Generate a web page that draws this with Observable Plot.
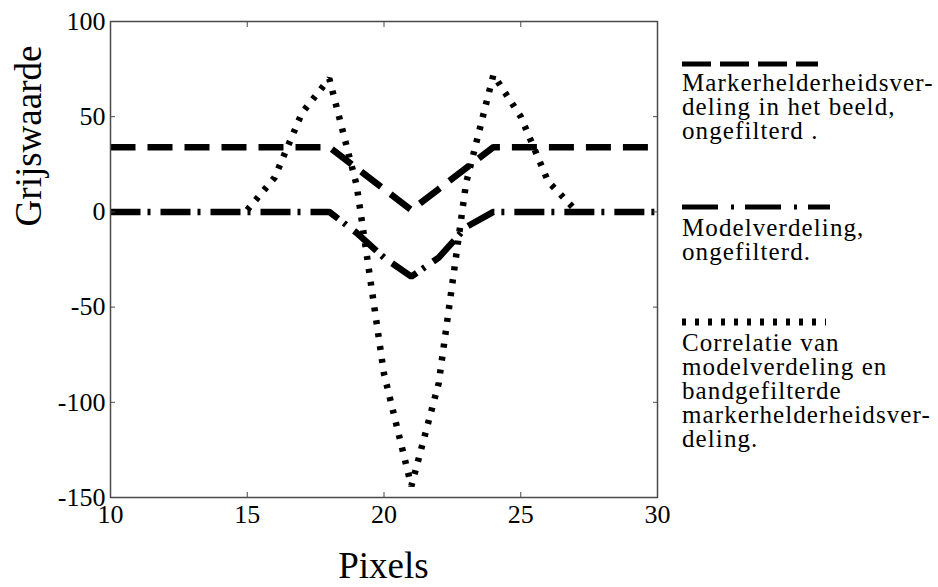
<!DOCTYPE html>
<html>
<head>
<meta charset="utf-8">
<script src="https://cdn.jsdelivr.net/npm/d3@7"></script>
<script src="https://cdn.jsdelivr.net/npm/@observablehq/plot@0.6"></script>
<style>
  html, body { margin: 0; padding: 0; background: #fff; }
  #chart { width: 938px; height: 587px; }
  #chart svg text { font-family: "Liberation Serif", "Times New Roman", serif; }
</style>
</head>
<body>
<div id="chart"></div>
<script>
// ---- data ----
const pixelsAll = [10,11,12,13,14,15,16,17,18,19,20,21,22,23,24,25,26,27,28,29,30];
const markerValues = [34,34,34,34,34,34,34,34,34,23,12,1,12,23,34,34,34,34,34,34,34];
const modelValues  = [0,0,0,0,0,0,0,0,0,-11,-24,-34,-24,-8,0,0,0,0,0,0,0];
const corrPixels = [15,16,17,18,19,20,21,22,23,24,25,26,27];
const corrValues = [1,18,52,70,14,-85,-144,-90,15,72,50,16,1];
const xTicks = [10,15,20,25,30];
const yTicks = [-150,-100,-50,0,50,100];
const legendLabels = [
  ["Markerhelderheidsver-", "deling in het beeld,", "ongefilterd ."],
  ["Modelverdeling,", "ongefilterd."],
  ["Correlatie van", "modelverdeling en", "bandgefilterde", "markerhelderheidsver-", "deling."]
];
const xLabel = "Pixels";
const yLabel = "Grijswaarde";

// ---- styles ----
const serif = "Liberation Serif";
const dashMarker = "25,12";
const dashModel = "30,7,3,10";
const dashCorr = "4,9";
const lineW = 6.5;
const axisColor = "#4a4a4a";

const markerData = pixelsAll.map((x, i) => ({x, y: markerValues[i]}));
const modelData = pixelsAll.map((x, i) => ({x, y: modelValues[i]}));
const corrData = corrPixels.map((x, i) => ({x, y: corrValues[i]}));

const chart = Plot.plot({
  width: 938,
  height: 587,
  marginLeft: 110,
  marginRight: 281,
  marginTop: 21,
  marginBottom: 90,
  x: {domain: [10, 30]},
  y: {domain: [-150, 100]},
  style: {fontFamily: serif, fontSize: "26px", color: "#000", background: "#fff", overflow: "visible"},
  marks: [
    Plot.line(markerData, {x: "x", y: "y", stroke: "#000", strokeWidth: lineW, strokeDasharray: dashMarker, strokeLinecap: "butt", strokeLinejoin: "miter"}),
    Plot.line(modelData, {x: "x", y: "y", stroke: "#000", strokeWidth: lineW, strokeDasharray: dashModel, strokeLinecap: "butt", strokeLinejoin: "miter"}),
    Plot.line(corrData, {x: "x", y: "y", stroke: "#000", strokeWidth: lineW, strokeDasharray: dashCorr, strokeLinecap: "butt", strokeLinejoin: "miter"}),
    Plot.frame({stroke: axisColor, strokeWidth: 1.5}),
    Plot.axisX({ticks: xTicks, tickSize: -5, tickPadding: 12, label: null, stroke: axisColor, fontSize: 26, fontFamily: serif}),
    Plot.axisX({anchor: "top", ticks: xTicks, tickSize: -5, tickFormat: () => "", label: null, stroke: axisColor}),
    Plot.axisY({ticks: yTicks, tickSize: -5, tickPadding: 10, label: null, stroke: axisColor, fontSize: 26, fontFamily: serif, tickFormat: d => d < 0 ? "-" + Math.abs(d) : String(d)}),
    Plot.axisY({anchor: "right", ticks: yTicks, tickSize: -5, tickFormat: () => "", label: null, stroke: axisColor})
  ]
});

document.getElementById("chart").appendChild(chart);

// ---- axis titles and legend (layout, drawn on top of the Plot SVG) ----
const svg = d3.select(chart);

svg.append("text")
  .attr("transform", "translate(41,136) rotate(-90)")
  .attr("text-anchor", "middle")
  .attr("font-size", 37)
  .attr("fill", "#000")
  .text(yLabel);

svg.append("text")
  .attr("x", 383.5)
  .attr("y", 578)
  .attr("text-anchor", "middle")
  .attr("font-size", 37)
  .attr("fill", "#000")
  .text(xLabel);

const legendX = 682;
const legendItems = [
  {sampleY: 64, dash: "29,9", w: 5, x2: 818, firstBaseline: 91},
  {sampleY: 207, dash: "36,13,3,11", w: 5, x2: 830, firstBaseline: 236},
  {sampleY: 322, dash: "4,9", w: 7, x2: 826, firstBaseline: 351}
];
const lineStep = 24;
const g = svg.append("g").attr("text-anchor", "start");
legendItems.forEach((item, k) => {
  g.append("line")
    .attr("x1", legendX).attr("x2", item.x2)
    .attr("y1", item.sampleY).attr("y2", item.sampleY)
    .attr("stroke", "#000").attr("stroke-width", item.w)
    .attr("stroke-dasharray", item.dash);
  legendLabels[k].forEach((t, j) => {
    g.append("text")
      .attr("x", legendX)
      .attr("y", item.firstBaseline + j * lineStep)
      .attr("text-anchor", "start")
      .attr("font-size", 25)
      .attr("letter-spacing", 1.1)
      .attr("fill", "#000")
      .text(t);
  });
});
</script>
</body>
</html>
